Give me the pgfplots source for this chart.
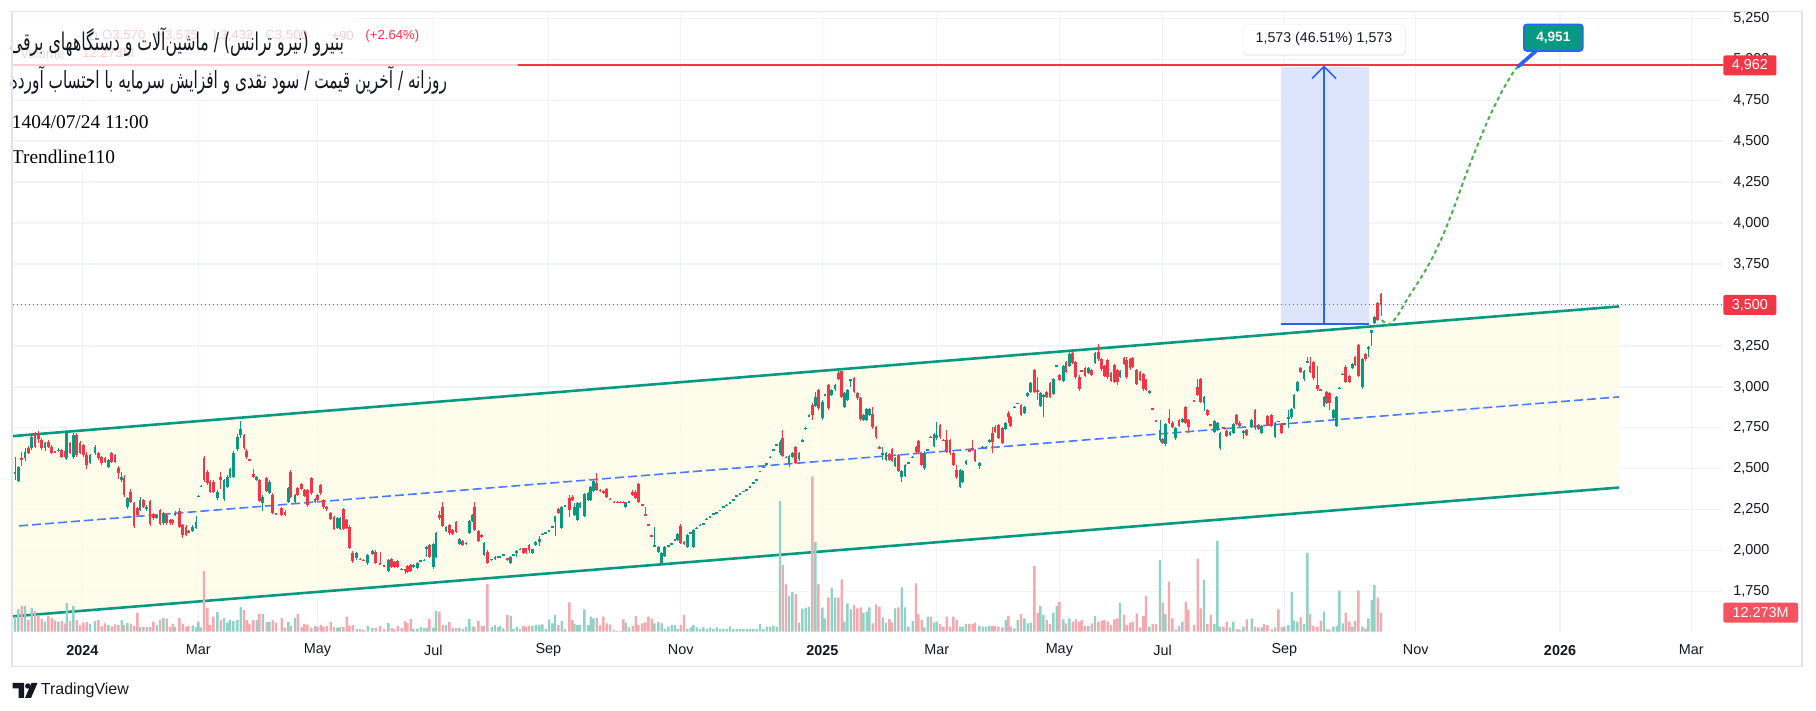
\documentclass[border=0pt]{standalone}
\usepackage{fontspec}
\usepackage{graphicx}
\usepackage{pgfplots}
\pgfplotsset{compat=1.18}
\usepackage{pgfplotstable}
\setmainfont{Liberation Sans}
\newfontfamily\arabicfont[Script=Arabic]{DejaVu Sans}
\newfontfamily\seriffont{Liberation Serif}
\TeXXeTstate=1
\definecolor{upc}{RGB}{8,153,129}
\definecolor{dnc}{RGB}{242,54,69}
\definecolor{upv}{RGB}{145,210,199}
\definecolor{dnv}{RGB}{247,167,174}
\definecolor{gridc}{RGB}{240,243,250}
\definecolor{chfill}{RGB}{254,252,232}
\definecolor{tvblue}{RGB}{41,98,255}
\definecolor{projc}{RGB}{76,175,80}
\definecolor{textc}{RGB}{19,23,34}
\definecolor{framec}{RGB}{224,227,235}
\definecolor{measfill}{RGB}{221,229,253}
\definecolor{labg}{RGB}{120,123,134}
\definecolor{volbox}{RGB}{247,82,95}

\pgfplotstableread{
U o h l c v
45 2468 2574 2432 2483 9.7
55 2428 2520 2420 2513 14.6
65 2566 2600 2520 2560 16.6
75 2564 2625 2550 2605 16.6
85 2625 2640 2588 2595 7.5
95 2625 2700 2615 2692 15.3
105 2717 2727 2625 2635 13.3
115 2705 2730 2660 2680 10.8
125 2676 2690 2615 2625 8.2
135 2625 2665 2612 2656 6.5
145 2666 2676 2625 2635 10.3
155 2635 2648 2588 2595 9.0
165 2606 2612 2594 2600 7.3
175 2610 2630 2600 2616 6.5
185 2615 2622 2566 2574 6.9
195 2611 2618 2562 2570 5.2
200 2564 2740 2555 2727 18.5
210 2656 2665 2588 2595 6.9
220 2574 2720 2560 2706 16.6
230 2706 2720 2575 2584 7.5
240 2656 2668 2590 2595 4.3
250 2645 2652 2575 2584 5.8
260 2584 2600 2500 2523 6.2
270 2534 2592 2528 2584 5.0
285 2595 2645 2585 2635 6.9
295 2595 2602 2556 2564 7.5
305 2574 2580 2525 2534 3.7
315 2564 2575 2536 2544 5.4
325 2513 2562 2505 2554 4.3
335 2595 2602 2536 2544 3.4
345 2584 2592 2536 2544 4.7
355 2503 2520 2440 2473 4.3
365 2432 2480 2420 2452 7.5
372 2442 2460 2330 2340 4.3
382 2269 2330 2255 2320 5.6
392 2361 2375 2290 2300 5.0
402 2289 2300 2140 2151 3.7
412 2259 2268 2210 2218 12.1
420 2249 2330 2240 2310 3.0
430 2310 2318 2260 2269 3.0
440 2253 2277 2245 2269 3.0
450 2304 2312 2150 2161 3.0
460 2222 2230 2190 2198 6.5
470 2198 2226 2192 2218 4.3
480 2249 2258 2155 2163 7.5
490 2167 2236 2160 2228 8.8
500 2218 2226 2160 2167 8.4
510 2188 2196 2160 2167 3.0
518 2188 2194 2160 2167 5.0
525 2218 2240 2212 2228 3.2
538 2243 2260 2140 2147 8.8
548 2157 2165 2080 2096 5.0
558 2147 2155 2090 2096 3.2
565 2118 2128 2108 2112 3.7
578 2123 2155 2116 2147 4.1
588 2137 2210 2130 2178 2.8
595 2330 2338 2326 2336 6.5
603 2391 2399 2387 2397 2.8
612 2564 2580 2420 2432 39.2
622 2483 2495 2400 2411 15.3
630 2422 2430 2350 2361 4.3
640 2422 2432 2350 2361 9.7
652 2320 2370 2312 2361 12.7
662 2448 2480 2380 2432 7.5
672 2314 2440 2305 2432 9.0
682 2391 2460 2385 2452 5.8
690 2452 2505 2445 2497 7.8
700 2452 2610 2445 2599 6.9
712 2619 2710 2612 2696 7.5
722 2706 2794 2690 2741 15.9
732 2706 2715 2615 2625 14.0
740 2611 2620 2560 2570 7.5
748 2558 2562 2548 2552 5.2
760 2468 2500 2445 2452 7.5
770 2432 2456 2425 2448 7.5
778 2432 2440 2295 2306 11.4
788 2294 2338 2240 2330 11.4
800 2442 2450 2360 2367 6.2
808 2355 2430 2348 2422 6.2
818 2340 2350 2225 2233 7.5
828 2228 2232 2216 2222 5.8
845 2259 2268 2210 2218 8.8
855 2239 2246 2210 2218 2.6
865 2300 2390 2292 2381 6.2
872 2483 2490 2322 2330 3.9
885 2300 2348 2292 2340 8.8
893 2381 2388 2332 2340 11.4
905 2407 2415 2368 2375 3.0
913 2371 2378 2326 2334 5.0
922 2371 2380 2270 2279 4.5
934 2442 2450 2342 2350 2.6
945 2298 2322 2290 2314 3.7
952 2340 2348 2302 2310 3.2
962 2401 2410 2342 2350 4.3
970 2310 2318 2257 2265 3.2
980 2265 2272 2245 2253 3.7
992 2228 2236 2185 2192 6.2
1002 2208 2215 2124 2131 3.0
1012 2137 2206 2130 2198 2.6
1020 2131 2206 2124 2198 3.0
1030 2253 2260 2124 2131 3.0
1040 2188 2196 2130 2137 9.5
1048 2147 2155 2008 2015 3.9
1058 1988 2000 1925 1940 4.3
1070 1954 1992 1946 1984 1.7
1080 1952 1956 1944 1946 1.7
1090 1944 1948 1936 1938 1.1
1103 1923 1980 1915 1972 3.7
1117 1981 2005 1975 1997 2.4
1127 1995 2002 1920 1927 2.4
1140 1923 1990 1915 1917 3.7
1152 1911 1915 1903 1905 1.7
1165 1879 1952 1870 1944 5.6
1175 1948 1955 1892 1899 2.4
1183 1934 1940 1896 1903 1.5
1193 1940 1946 1896 1903 3.7
1205 1891 1895 1883 1885 2.4
1215 1887 1890 1860 1881 6.9
1222 1909 1915 1862 1870 5.6
1232 1913 1920 1872 1879 8.2
1240 1903 1920 1896 1913 1.9
1252 1893 1930 1886 1923 1.7
1262 1936 1946 1934 1942 3.0
1272 1940 1950 1938 1946 2.4
1280 2015 2032 1960 2025 2.4
1288 2035 2042 1958 1964 8.2
1300 1899 2048 1892 2041 2.4
1308 1964 2112 1958 2106 13.3
1318 2218 2240 2190 2198 12.9
1328 2265 2300 2145 2151 4.3
1338 2123 2154 2116 2147 4.3
1348 2157 2165 2098 2106 6.2
1358 2127 2134 2095 2102 2.4
1368 2176 2184 2108 2115 2.4
1378 2041 2076 2034 2070 2.4
1388 2062 2068 2028 2035 1.7
1398 2043 2056 2038 2049 3.2
1408 2110 2190 2103 2184 8.2
1418 2184 2225 2176 2218 3.2
1423 2265 2300 2120 2127 3.2
1435 2121 2128 2055 2062 6.9
1445 2096 2102 2080 2086 3.7
1452 1974 2056 1966 2049 3.7
1462 1995 2002 1920 1927 30.8
1475 1944 1952 1940 1950 3.0
1485 1948 1966 1942 1960 4.3
1495 1960 1970 1956 1966 3.0
1500 1958 1966 1956 1964 3.7
1510 1972 1980 1970 1978 2.2
1522 1954 1958 1940 1944 10.8
1532 1927 1966 1922 1960 10.1
1540 1972 1980 1970 1978 1.9
1550 1984 2003 1964 1999 3.2
1560 2007 2015 2005 2013 1.9
1570 2015 2020 1982 1988 3.7
1578 2015 2020 1982 1988 3.2
1587 2035 2040 1984 2005 3.7
1597 1984 2014 1978 2009 3.7
1607 2035 2060 2030 2055 4.3
1618 2055 2090 2031 2074 4.3
1627 2098 2106 2096 2104 4.7
1637 2108 2116 2106 2114 1.9
1647 2119 2127 2117 2125 8.0
1657 2143 2151 2141 2149 5.4
1665 2177 2215 2090 2212 10.8
1675 2253 2260 2222 2228 4.3
1685 2137 2275 2130 2269 6.9
1695 2273 2281 2271 2279 1.9
1708 2322 2340 2205 2249 18.9
1717 2330 2338 2302 2310 7.5
1723 2218 2289 2212 2269 5.0
1732 2188 2295 2182 2289 4.3
1740 2269 2300 2262 2293 4.3
1753 2212 2352 2205 2346 14.4
1765 2310 2356 2302 2350 4.3
1772 2310 2398 2302 2391 9.7
1780 2367 2435 2360 2428 8.6
1790 2411 2472 2365 2371 9.0
1800 2371 2375 2361 2365 4.3
1810 2367 2372 2348 2354 9.7
1820 2375 2382 2324 2330 5.4
1830 2318 2320 2310 2312 4.7
1842 2299 2301 2291 2293 1.1
1852 2299 2301 2291 2293 0.5
1862 2299 2301 2291 2293 0.5
1870 2299 2301 2291 2293 8.0
1877 2269 2300 2262 2295 5.8
1887 2297 2305 2295 2303 2.8
1898 2361 2368 2334 2340 3.7
1907 2361 2368 2314 2320 10.1
1915 2407 2414 2292 2299 4.3
1927 2283 2285 2275 2277 5.4
1936 2222 2269 2212 2214 6.0
1945 2161 2165 2150 2153 9.7
1955 2096 2099 2088 2090 8.4
1963 2029 2143 2025 2035 5.4
1975 1990 2030 1984 2025 6.2
1985 1927 1990 1922 1984 5.4
1994 1970 2030 1964 2025 1.9
2005 2029 2037 2027 2035 3.2
2015 2039 2047 2037 2045 4.3
2025 2064 2072 2062 2070 4.3
2033 2066 2106 2060 2100 1.9
2042 2151 2165 2040 2045 4.3
2052 2055 2060 2036 2041 10.8
2062 2025 2102 2018 2096 1.9
2072 2108 2116 2106 2114 2.8
2080 2021 2133 2015 2127 4.3
2090 2135 2143 2133 2141 2.8
2100 2153 2161 2151 2159 1.9
2110 2161 2169 2159 2167 2.8
2120 2190 2198 2188 2196 1.9
2130 2206 2214 2204 2212 2.8
2140 2222 2230 2220 2228 1.9
2150 2230 2238 2228 2236 2.8
2160 2243 2251 2241 2249 1.9
2170 2267 2275 2265 2273 1.9
2180 2275 2283 2273 2281 1.9
2190 2291 2299 2289 2297 3.2
2200 2308 2316 2306 2314 1.9
2210 2332 2340 2330 2338 1.9
2220 2344 2352 2342 2350 1.9
2230 2359 2367 2357 2365 1.9
2240 2369 2377 2367 2375 1.9
2250 2389 2397 2387 2395 1.9
2260 2413 2421 2411 2419 1.9
2270 2430 2438 2428 2436 1.9
2280 2481 2489 2479 2487 5.0
2290 2507 2515 2505 2513 1.9
2300 2527 2535 2525 2533 3.2
2310 2568 2576 2566 2574 3.2
2320 2613 2621 2611 2619 3.7
2330 2643 2651 2641 2649 3.2
2340 2594 2676 2584 2666 84.4
2348 2686 2737 2570 2578 43.1
2358 2574 2578 2566 2568 30.6
2367 2537 2584 2513 2578 23.0
2377 2574 2600 2568 2594 25.6
2387 2631 2640 2530 2537 24.3
2397 2558 2600 2550 2594 5.8
2407 2668 2680 2665 2676 14.9
2417 2743 2755 2740 2751 15.5
2427 2820 2832 2817 2828 16.1
2437 2889 2900 2800 2828 100.1
2446 2885 2970 2878 2936 58.1
2455 2981 2990 2860 2869 30.8
2467 2808 2918 2800 2910 15.5
2475 2946 2958 2943 2954 8.6
2485 3011 3020 2860 2869 22.2
2495 2950 2990 2944 2981 28.4
2505 2985 3018 2978 3011 22.0
2515 3082 3100 3040 3046 22.0
2525 3097 3100 2932 2940 33.8
2533 2879 2968 2872 2961 6.5
2542 2920 2988 2913 2981 18.3
2552 3038 3050 3000 3046 14.4
2562 3052 3060 2960 2967 17.2
2572 2965 2972 2922 2930 15.1
2582 2930 2938 2795 2802 15.7
2590 2798 2835 2790 2828 12.3
2600 2798 2870 2790 2863 12.9
2608 2828 2870 2820 2863 15.7
2618 2834 2879 2746 2753 5.4
2628 2753 2760 2685 2692 17.7
2638 2633 2640 2620 2627 16.1
2648 2584 2635 2554 2594 9.3
2658 2554 2600 2546 2594 5.8
2668 2590 2598 2546 2554 8.2
2676 2619 2626 2543 2550 6.0
2685 2517 2570 2510 2564 15.1
2695 2584 2592 2482 2489 15.7
2705 2452 2496 2420 2489 28.6
2715 2456 2530 2449 2523 15.7
2725 2535 2543 2533 2541 3.2
2738 2568 2576 2566 2574 6.9
2748 2635 2642 2596 2603 31.2
2755 2670 2678 2598 2605 11.2
2765 2594 2602 2516 2523 7.5
2773 2503 2606 2496 2599 2.8
2783 2613 2621 2611 2619 9.7
2792 2696 2700 2688 2690 9.7
2802 2639 2717 2632 2710 6.0
2810 2686 2788 2679 2706 6.5
2820 2767 2775 2685 2692 5.0
2830 2678 2682 2672 2674 3.2
2840 2676 2737 2598 2605 9.7
2850 2676 2684 2587 2594 3.2
2860 2594 2602 2516 2523 9.7
2870 2493 2525 2440 2448 7.5
2880 2391 2500 2384 2493 3.2
2888 2422 2496 2415 2489 3.2
2898 2529 2557 2522 2550 5.0
2908 2615 2622 2605 2609 5.0
2918 2625 2676 2610 2615 5.0
2925 2615 2622 2543 2550 5.8
2938 2517 2540 2500 2533 3.7
2948 2629 2637 2627 2635 3.2
2958 2625 2640 2620 2635 3.2
2968 2666 2680 2660 2676 3.7
2977 2721 2757 2599 2666 3.7
2985 2757 2765 2720 2727 3.7
2995 2768 2775 2680 2686 3.2
3007 2747 2755 2650 2656 2.8
3017 2741 2785 2735 2778 7.5
3025 2843 2850 2780 2818 10.1
3032 2818 2825 2755 2762 3.2
3043 2873 2881 2871 2879 2.2
3053 2896 2904 2894 2902 7.5
3063 2890 2898 2822 2829 11.4
3073 2839 2886 2832 2879 8.6
3083 2945 2972 2938 2965 5.4
3092 2971 3029 2964 3022 5.8
3103 3103 3110 2964 2971 42.4
3113 2981 3063 2920 2975 12.3
3121 2884 2968 2877 2961 16.6
3130 2941 2958 2818 2951 10.8
3140 2971 2978 2934 2941 7.5
3150 3026 3033 2934 2941 5.0
3160 2957 3053 2950 3046 12.3
3170 3124 3134 3122 3132 16.6
3178 3073 3080 3035 3042 19.2
3190 3038 3135 3031 3128 8.0
3198 3154 3161 3086 3093 5.4
3208 3128 3220 3121 3201 8.6
3218 3205 3215 3137 3144 6.5
3227 3154 3161 3051 3058 8.0
3238 3063 3070 2978 2985 6.5
3245 3101 3105 3095 3097 7.5
3255 3113 3120 3060 3067 3.7
3265 3083 3120 3076 3113 3.7
3275 3103 3110 3066 3073 5.4
3285 3148 3212 3141 3205 10.1
3295 3215 3262 3161 3168 6.5
3305 3168 3175 3100 3107 7.1
3313 3128 3135 3060 3067 7.5
3323 3164 3171 3051 3058 6.5
3333 3087 3094 3031 3038 4.3
3343 3134 3141 3025 3032 8.0
3352 3103 3110 3012 3032 8.6
3360 3063 3106 3056 3099 18.7
3372 3174 3181 3133 3140 10.8
3380 3164 3180 3051 3058 4.3
3390 3168 3175 3106 3113 5.8
3398 3174 3181 3117 3124 6.5
3410 3103 3110 3011 3018 11.8
3420 3093 3100 3035 3042 2.8
3430 3079 3086 2978 2985 10.1
3438 3042 3049 2974 2981 23.0
3448 2961 2982 2954 2975 3.2
3458 2869 2871 2861 2863 5.0
3468 2798 2800 2790 2792 5.0
3480 2676 2798 2665 2737 46.3
3488 2680 2688 2652 2660 18.7
3496 2652 2780 2640 2774 11.4
3507 2812 2865 2775 2782 32.3
3517 2782 2790 2750 2757 8.6
3527 2686 2754 2679 2747 1.5
3537 2798 2805 2755 2762 3.7
3547 2788 2809 2781 2802 6.5
3557 2879 2886 2775 2782 19.4
3565 2798 2805 2720 2757 14.0
3582 2918 2920 2910 2912 4.3
3593 2997 3050 2944 2951 47.2
3602 3046 3053 2903 2910 15.1
3612 2900 2943 2855 2936 33.4
3622 2859 2866 2822 2829 5.0
3632 2772 2774 2764 2766 10.8
3643 2727 2799 2720 2792 5.0
3652 2737 2785 2730 2778 58.6
3660 2625 2724 2618 2717 3.2
3670 2755 2757 2747 2749 3.2
3680 2733 2740 2693 2700 6.5
3690 2707 2734 2700 2727 2.8
3700 2717 2779 2710 2772 6.5
3710 2829 2836 2767 2774 1.5
3718 2782 2789 2755 2762 1.5
3730 2717 2738 2680 2731 3.2
3740 2737 2744 2700 2707 8.0
3755 2757 2805 2750 2798 8.6
3765 2859 2866 2740 2747 3.2
3775 2768 2775 2736 2743 2.8
3785 2717 2769 2710 2762 2.8
3792 2768 2770 2760 2762 5.0
3802 2824 2831 2761 2768 4.3
3815 2829 2836 2755 2762 1.5
3825 2696 2785 2689 2778 2.8
3835 2792 2794 2784 2786 14.4
3845 2774 2781 2714 2721 2.8
3853 2772 2780 2770 2778 3.2
3865 2808 2859 2747 2818 4.3
3875 2814 2870 2807 2863 25.8
3882 2873 2958 2866 2951 7.1
3892 2977 3039 2970 3032 6.5
3902 3113 3120 3086 3093 9.3
3912 3046 3106 3039 3099 5.0
3922 3150 3181 3148 3158 51.0
3930 3128 3181 3086 3093 11.4
3940 3154 3161 3045 3052 3.7
3952 3012 3128 2978 2985 3.2
3962 2985 2987 2977 2979 7.1
3972 2884 2943 2877 2936 12.9
3980 2971 2978 2897 2904 1.5
3988 2965 2972 2859 2904 1.5
4000 2808 2866 2801 2859 3.2
4010 2764 2943 2757 2936 3.7
4018 2989 2997 2987 2995 26.5
4028 3075 3083 3073 3081 5.4
4037 3124 3131 3025 3032 12.3
4048 3067 3074 3025 3032 6.5
4057 3117 3147 3110 3140 3.2
4065 3181 3188 3127 3134 7.1
4075 3256 3263 3060 3067 26.5
4087 2997 3175 2990 3168 3.2
4096 3201 3208 3161 3168 2.2
4105 3235 3250 3181 3246 8.6
4115 3331 3350 3250 3347 20.5
4123 3392 3430 3385 3425 30.1
4133 3514 3520 3400 3410 22.0
4143 3570 3575 3432 3500 12.273
}\candles

\pgfplotsset{
  tvaxis/.style={at={(6.35pt,39.65pt)}, anchor=south west, scale only axis,
    width=855.15pt, height=309.35pt, xmin=38, xmax=5169},
  candle/.style={only marks, mark=*, mark size=0pt, mark options={draw=none, fill=none},
    error bars/.cd, y dir=both, y explicit, error mark=none,
    error bar style={line width=#1}},
}

\begin{document}
\begin{tikzpicture}
\useasboundingbox (0,0) rectangle (908pt,355.5pt);
\fill[white] (0,0) rectangle (908pt,355.5pt);

% ---------------- axis A: grid, scales, channel -----------------
\begin{axis}[tvaxis, ymin=1506.4, ymax=5281.7,
  axis line style={draw=none}, major tick length=0pt,
  xtick={247,595,952,1300,1645,2042,2467,2810,3178,3488,3853,4247,4680,5074},
  xticklabels={\textbf{2024},Mar,May,Jul,Sep,Nov,\textbf{2025},Mar,May,Jul,Sep,Nov,\textbf{2026},Mar},
  ytick={1750,2000,2250,2500,2750,3000,3250,3500,3750,4000,4250,4500,4750,5000,5250},
  yticklabels={{1,750},{2,000},{2,250},{2,500},{2,750},{3,000},{3,250},{3,500},{3,750},{4,000},{4,250},{4,500},{4,750},{5,000},{5,250}},
  yticklabel pos=right,
  xmajorgrids, ymajorgrids, grid style={gridc, line width=0.6pt},
  xticklabel style={anchor=center, yshift=-9.2pt, font=\fontsize{7.2}{8}\selectfont, text=textc},
  yticklabel style={anchor=west, xshift=5pt, inner sep=0pt, font=\fontsize{7.2}{8}\selectfont, text=textc},
  clip mode=individual]
  \fill[chfill, fill opacity=0.85] (axis cs:38,1600) -- (axis cs:4857,2386) -- (axis cs:4857,3491) -- (axis cs:38,2700) -- cycle;
  \draw[upc, line width=1.3pt] (axis cs:38,2700) -- (axis cs:4857,3491);
  \draw[upc, line width=1.3pt] (axis cs:38,1600) -- (axis cs:4857,2386);
  \draw[tvblue!85, line width=0.8pt, dash pattern=on 4.5pt off 2pt] (axis cs:57,2152) -- (axis cs:4857,2939);
  % price range measurement
  \fill[measfill] (axis cs:3843,3382) rectangle (axis cs:4106,4955);
  \draw[tvblue, line width=1pt] (axis cs:3843,3382) -- (axis cs:4106,3382);
  \draw[tvblue, line width=0.8pt] (axis cs:3972,3382) -- (axis cs:3972,4955);
  \draw[tvblue, line width=0.8pt] (axis cs:3936,4882) -- (axis cs:3972,4955) -- (axis cs:4008,4882);
  % horizontal lines
  \draw[dnc, line width=0.5pt, dash pattern=on 0.6pt off 1.4pt] (axis cs:38,3500) -- (axis cs:5169,3500);
  \draw[dnc, line width=1pt] (axis cs:38,4962) -- (axis cs:5169,4962);
\end{axis}

% ---------------- axis B: volume -----------------
\begin{axis}[tvaxis, ymin=0, ymax=399.7, hide axis]
  \addplot[ybar, bar width=7, bar shift=0pt, fill=upv, draw=none]
    table[x=U, y expr={\thisrow{c}>=\thisrow{o} ? \thisrow{v} : nan}] {\candles};
  \addplot[ybar, bar width=7, bar shift=0pt, fill=dnv, draw=none]
    table[x=U, y expr={\thisrow{c}<\thisrow{o} ? \thisrow{v} : nan}] {\candles};
  \coordinate (volc) at (axis cs:5169,12.273);
\end{axis}

% ---------------- axis C: candles -----------------
\begin{axis}[tvaxis, ymin=1506.4, ymax=5281.7, hide axis, clip mode=individual]
  % wicks
  \addplot[candle=0.5pt, error bar style={upc}]
    table[x=U, y expr={\thisrow{c}>=\thisrow{o} ? (\thisrow{h}+\thisrow{l})/2 : nan},
      y error expr={(\thisrow{h}-\thisrow{l})/2}] {\candles};
  \addplot[candle=0.5pt, error bar style={dnc}]
    table[x=U, y expr={\thisrow{c}<\thisrow{o} ? (\thisrow{h}+\thisrow{l})/2 : nan},
      y error expr={(\thisrow{h}-\thisrow{l})/2}] {\candles};
  % bodies
  \addplot[candle=1.3pt, error bar style={upc}]
    table[x=U, y expr={\thisrow{c}>=\thisrow{o} ? (\thisrow{o}+\thisrow{c})/2 : nan},
      y error expr={abs(\thisrow{c}-\thisrow{o})/2}] {\candles};
  \addplot[candle=1.3pt, error bar style={dnc}]
    table[x=U, y expr={\thisrow{c}<\thisrow{o} ? (\thisrow{o}+\thisrow{c})/2 : nan},
      y error expr={abs(\thisrow{c}-\thisrow{o})/2}] {\candles};
  % projection curve
  \draw[projc, line width=1pt, dash pattern=on 2pt off 1.6pt] plot[smooth] coordinates {
    (4145,3408) (4164,3380) (4180,3402) (4194,3439) (4224,3543) (4256,3644) (4291,3764)
    (4326,3912) (4361,4089) (4395,4280) (4430,4463) (4465,4633) (4500,4781) (4534,4902) (4552,4951)};
  \coordinate (projend) at (axis cs:4552,4951);
  \coordinate (projtail) at (axis cs:4615,5062);
  \coordinate (projbox) at (axis cs:4660,5131);
  \coordinate (measlab) at (axis cs:3972,5121);
  \coordinate (lab4962) at (axis cs:5169,4962);
  \coordinate (lab3500) at (axis cs:5169,3500);
\end{axis}

% --------- annotations ----------
\draw[tvblue, line width=1.8pt] (projend) -- (projtail);
\node[fill=upc, draw=tvblue, line width=0.8pt, rounded corners=1.5pt, minimum width=29.5pt, minimum height=13.3pt, inner sep=0pt, text=white, font=\bfseries\fontsize{6.8}{8}\selectfont] at (projbox) {4,951};
\fill[black, opacity=0.06, rounded corners=2pt] ([xshift=-40.5pt,yshift=-8.3pt]measlab) rectangle ([xshift=41pt,yshift=7pt]measlab);
\node[fill=white, draw=gridc, line width=0.3pt, rounded corners=2pt, minimum width=81pt, minimum height=15pt, inner sep=0pt, text=textc, font=\fontsize{7.1}{8}\selectfont] at (measlab) {1,573 (46.51\%) 1,573};

\node[fill=dnc, rounded corners=1pt, anchor=west, minimum width=26.5pt, minimum height=10pt, inner sep=0pt, text=white, font=\fontsize{7.2}{8}\selectfont] at (lab4962) {4,962};
\node[fill=dnc, rounded corners=1pt, anchor=west, minimum width=26.5pt, minimum height=10pt, inner sep=0pt, text=white, font=\fontsize{7.2}{8}\selectfont] at (lab3500) {3,500};
\node[fill=volbox, rounded corners=1pt, anchor=west, minimum width=37.3pt, minimum height=10pt, inner sep=0pt, text=white, font=\fontsize{7.2}{8}\selectfont] at (volc) {12.273M};

\begin{scope}[x=0.5pt, y=-0.5pt, shift={(0,355.5pt)}]
  % faded legend (OHLC and volume)
  \begin{scope}[every node/.style={anchor=west, inner sep=0pt, font=\fontsize{6.6}{8}\selectfont}]
    \node[text=labg] at (88,35.7) {D};
    \node at (101.7,35.7) {\textcolor{labg}{O}\textcolor{dnc}{3,570}};
    \node at (155,35.7) {\textcolor{labg}{H}\textcolor{dnc}{3,575}};
    \node at (212.7,35.7) {\textcolor{labg}{L}\textcolor{dnc}{3,432}};
    \node at (265,35.7) {\textcolor{labg}{C}\textcolor{dnc}{3,500}};
    \node[text=dnc] at (331,35.7) {+90};
    \node[text=dnc] at (365,35.7) {(+2.64\%)};
    \node[text=labg] at (20,53.3) {Volume};
    \node[text=dnc] at (82,53.3) {12.273M};
  \end{scope}
  % translucent legend backgrounds
  \fill[white, opacity=0.75] (12.7,13) rectangle (356,62);
  \fill[white, opacity=0.75] (12.7,62) rectangle (518,98);
  \fill[white, opacity=0.75] (12.7,104) rectangle (152,140);
  \fill[white, opacity=0.75] (12.7,142) rectangle (122,172);
  % titles
  \node[anchor=west, inner sep=0pt, text=textc] at (9.5,41.7)
    {\scalebox{1}[1.55]{\resizebox{167pt}{!}{\arabicfont\fontsize{8}{10}\selectfont\beginR بنیرو (نیرو ترانس) / ماشین‌آلات و دستگاههای برقی\endR}}};
  \node[anchor=west, inner sep=0pt, text=textc] at (9.5,80)
    {\scalebox{1}[1.55]{\resizebox{218.5pt}{!}{\arabicfont\fontsize{8}{10}\selectfont\beginR روزانه / آخرین قیمت / سود نقدی و افزایش سرمایه با احتساب آورده\endR}}};
  \node[anchor=west, inner sep=0pt, text=black, font=\seriffont\fontsize{9.7}{11}\selectfont] at (11.5,121.7) {1404/07/24 11:00};
  \node[anchor=west, inner sep=0pt, text=black, font=\seriffont\fontsize{9.7}{11}\selectfont] at (11.5,156.7) {Trendline110};
  % frame
  \draw[framec, line width=0.7pt] (11.8,11.6) rectangle (1802,666.5);
  % TradingView logo
  \fill[textc] (12.6,683) -- (24,683) -- (24,698) -- (18.5,698) -- (18.5,688.5) -- (12.6,688.5) -- cycle;
  \fill[textc] (27.8,686) circle (2.7);
  \fill[textc] (31.5,683) -- (37.5,683) -- (31,698) -- (25,698) -- cycle;
  \node[anchor=west, inner sep=0pt, text=textc, font=\fontsize{8}{9}\selectfont] at (40.5,690.5) {TradingView};
\end{scope}
\end{tikzpicture}
\end{document}
